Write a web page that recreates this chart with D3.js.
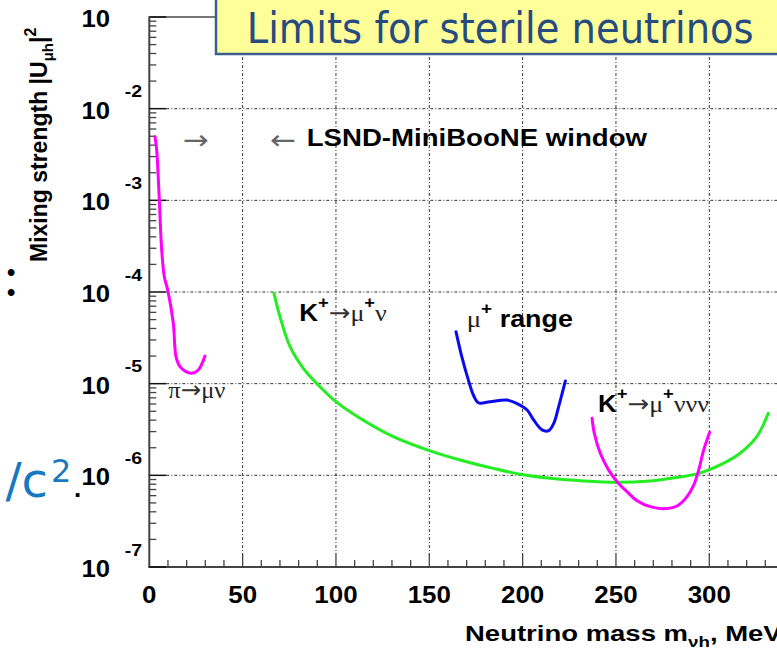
<!DOCTYPE html>
<html>
<head>
<meta charset="utf-8">
<script src="https://cdn.jsdelivr.net/npm/d3@7"></script>
<style>
  html, body { margin: 0; padding: 0; background: #fff; }
  svg { display: block; }
</style>
</head>
<body>
<script>
// ---- data ----
const massTicks = [0, 50, 100, 150, 200, 250, 300];
const decadeExps = [-1, -2, -3, -4, -5, -6, -7];

// pi -> mu nu peak search
const piMass = [3.05, 3.96, 5.36, 6.64, 8.04, 9.86, 12.86, 14.3, 16.45, 19.4, 22.7, 26.25, 29.84];
const piMix  = [4.94e-3, 3.54e-3, 1.01e-3, 2.87e-4, 1.47e-4, 1.05e-4, 4.56e-5, 1.97e-5, 1.53e-5, 1.36e-5, 1.30e-5, 1.41e-5, 2.0e-5];

// K+ -> mu+ nu peak search
const kMuNuMass = [66.8, 70.0, 75.4, 82.5, 90.5, 100.0, 112.9, 130.7, 150.0, 166.5, 184.3, 198.6, 214.8, 232.7, 250.6, 268.4, 281.5, 294.3, 307.5, 316.5, 325.4, 331.6];
const kMuNuMix  = [9.68e-5, 5.38e-5, 2.53e-5, 1.47e-5, 9.68e-6, 6.36e-6, 4.19e-6, 2.64e-6, 1.86e-6, 1.47e-6, 1.19e-6, 1.03e-6, 9.29e-7, 8.68e-7, 8.39e-7, 8.68e-7, 9.4e-7, 1.05e-6, 1.35e-6, 1.74e-6, 2.64e-6, 4.75e-6];

// mu+ range
const muRangeMass = [164.3, 167.4, 170.9, 173.6, 176.3, 182.5, 191.5, 196.8, 202.4, 205.9, 210.4, 214.0, 216.7, 219.3, 222.9];
const muRangeMix  = [3.69e-5, 1.97e-5, 1.10e-5, 7.52e-6, 6.19e-6, 6.36e-6, 6.64e-6, 6.11e-6, 5.16e-6, 4.02e-6, 3.13e-6, 3.07e-6, 3.70e-6, 5.61e-6, 1.07e-5];

// K+ -> mu+ nu nu nu
const k3NuMass = [237.2, 238.4, 241.6, 246.1, 250.6, 255.9, 261.3, 268.4, 275.6, 282.7, 288.1, 291.7, 294.3, 297.0, 300.2];
const k3NuMix  = [4.19e-6, 2.88e-6, 1.74e-6, 1.14e-6, 8.53e-7, 6.64e-7, 5.29e-7, 4.55e-7, 4.33e-7, 4.63e-7, 5.85e-7, 7.85e-7, 1.14e-6, 1.89e-6, 2.95e-6];

// ---- layout ----
const W = 777, H = 648;
const SANS = "'Liberation Sans', Arial, Helvetica, sans-serif";
const SERIF = "'Liberation Serif', 'Times New Roman', serif";
const ARROW = "'DejaVu Sans', sans-serif";
const SLIDE = "'DejaVu Sans', Verdana, sans-serif";

const svg = d3.select('body').append('svg').attr('width', W).attr('height', H);

const x = d3.scaleLinear().domain([0, 300]).range([149.3, 709.3]);
const y = d3.scaleLog().domain([1e-7, 1e-1]).range([567, 17]);
const xLeft = x(0), yBot = y(1e-7), yTop = y(1e-1);

// text helper: parts drawn as tspans inside a horizontally scaled group
function label(px, py, parts, opts = {}) {
  const g = svg.append('g')
    .attr('transform', `translate(${px},${py})${opts.rotate ? ` rotate(${opts.rotate})` : ''} scale(${opts.sx || 1},1)`);
  const t = g.append('text')
    .attr('text-anchor', opts.anchor || 'start')
    .attr('fill', opts.fill || '#000')
    .attr('letter-spacing', opts.ls || null);
  parts.forEach(p => {
    const ts = t.append('tspan')
      .text(p.t)
      .attr('font-family', p.f || SANS)
      .attr('font-size', p.s || 24)
      .attr('font-weight', p.w || 'bold')
      .attr('dy', p.dy || 0)
      .attr('fill', p.c || null);
    if (p.x !== undefined) ts.attr('x', p.x);
  });
  return t;
}

// ---- grid ----
const grid = svg.append('g').attr('stroke', '#333').attr('stroke-width', 1)
  .attr('stroke-dasharray', '3,2,1,2').attr('fill', 'none');
massTicks.filter(m => m > 0).forEach(m => {
  grid.append('line').attr('x1', x(m)).attr('x2', x(m)).attr('y1', yTop).attr('y2', yBot - 14);
});
decadeExps.slice(1, -1).forEach(e => {
  grid.append('line').attr('x1', xLeft + 17).attr('x2', W).attr('y1', y(Math.pow(10, e))).attr('y2', y(Math.pow(10, e)));
});

// ---- axes frame and ticks ----
const axis = svg.append('g').attr('stroke', '#444').attr('fill', 'none');
axis.append('line').attr('x1', xLeft).attr('x2', xLeft).attr('y1', yTop).attr('y2', yBot).attr('stroke-width', 2);
axis.append('line').attr('x1', xLeft - 1).attr('x2', W).attr('y1', yBot).attr('y2', yBot).attr('stroke-width', 2);
axis.append('line').attr('x1', xLeft - 1).attr('x2', 230).attr('y1', yTop).attr('y2', yTop).attr('stroke-width', 2).attr('stroke', '#777');

// x ticks: majors every 50, minors every 10
d3.range(10, 340, 10).forEach(m => {
  const major = m % 50 === 0;
  axis.append('line').attr('x1', x(m)).attr('x2', x(m))
    .attr('y1', yBot).attr('y2', yBot - (major ? 14 : 7)).attr('stroke-width', 1.3);
});
// y ticks: decades and 2..9 minors
decadeExps.forEach(e => {
  if (e > -7) {
    d3.range(2, 10).forEach(k => {
      const v = k * Math.pow(10, e - 1);
      axis.append('line').attr('x1', xLeft).attr('x2', xLeft + 7)
        .attr('y1', y(v)).attr('y2', y(v)).attr('stroke-width', 1.3);
    });
  }
  axis.append('line').attr('x1', xLeft).attr('x2', xLeft + 17)
    .attr('y1', y(Math.pow(10, e))).attr('y2', y(Math.pow(10, e))).attr('stroke-width', 1.5).attr('stroke', '#111');
});

// tick labels
massTicks.forEach(m => {
  label(x(m), 603, [{ t: String(m), s: 24 }], { anchor: 'middle', sx: 1.08 });
});
decadeExps.forEach(e => {
  const gy = y(Math.pow(10, e));
  label(110, gy + 10, [{ t: '10', s: 24 }], { anchor: 'end', sx: 1.07 });
  // the top exponent sits above the page edge
  if (e < -1) label(142, gy - 11.5, [{ t: String(e), s: 17 }], { anchor: 'end', sx: 1.15 });
});

// axis titles
label(465, 640.5, [
  { t: 'Neutrino mass m', s: 22 },
  { t: 'νh', s: 15, dy: 6 },
  { t: ', MeV', s: 22, dy: -6 }
], { sx: 1.25 });

label(47, 262, [
  { t: 'Mixing strength |U', s: 23 },
  { t: 'μh', s: 15, dy: 6 },
  { t: '|', s: 23, dy: -6 },
  { t: '2', s: 16, dy: -11 }
], { rotate: -90 });

// ---- curves ----
const line = d3.line().x(d => x(d[0])).y(d => y(d[1])).curve(d3.curveCatmullRom.alpha(0.5));
const curves = [
  { m: piMass, u: piMix, c: '#ff00ff' },
  { m: kMuNuMass, u: kMuNuMix, c: '#22ee22' },
  { m: muRangeMass, u: muRangeMix, c: '#0a0aee' },
  { m: k3NuMass, u: k3NuMix, c: '#ff00ff' }
];
svg.append('g').selectAll('path').data(curves).join('path')
  .attr('d', d => line(d3.zip(d.m, d.u)))
  .attr('fill', 'none').attr('stroke', d => d.c).attr('stroke-width', 3)
  .attr('stroke-linejoin', 'round').attr('stroke-linecap', 'round');

// ---- annotations ----
label(183, 149, [{ t: '→', f: ARROW, s: 27, w: 'normal' }], { fill: '#666', sx: 1.15 });
label(270, 149, [{ t: '←', f: ARROW, s: 27, w: 'normal' }], { fill: '#666', sx: 1.15 });
label(306.7, 145.7, [{ t: 'LSND-MiniBooNE window', s: 24 }], { sx: 1.15 });

label(299.3, 320.7, [
  { t: 'K', s: 24 },
  { t: '+', s: 17, dy: -13 },
  { t: '→', f: ARROW, s: 24, w: 'normal', dy: 13, c: '#333' },
  { t: 'μ', f: SERIF, s: 24, w: 'normal', c: '#222' },
  { t: '+', s: 17, dy: -13 },
  { t: 'ν', f: SERIF, s: 24, w: 'normal', dy: 13, c: '#222' }
], { sx: 1.08 });

label(466.7, 326.7, [
  { t: 'μ', f: SERIF, s: 24, w: 'normal', c: '#222' },
  { t: '+', s: 17, dy: -13 },
  { t: ' range', s: 24, dy: 13 }
], { sx: 1.12 });

label(598, 411.7, [
  { t: 'K', s: 24 },
  { t: '+', s: 17, dy: -13 },
  { t: '→', f: ARROW, s: 24, w: 'normal', dy: 13, c: '#333' },
  { t: 'μ', f: SERIF, s: 24, w: 'normal', c: '#222' },
  { t: '+', s: 17, dy: -13 },
  { t: 'ννν', f: SERIF, s: 24, w: 'normal', dy: 13, c: '#222' }
], { sx: 1.08 });

label(168.3, 398.3, [
  { t: 'π', f: SERIF, s: 24, w: 'normal' },
  { t: '→', f: ARROW, s: 24, w: 'normal', c: '#333' },
  { t: 'μν', f: SERIF, s: 24, w: 'normal' }
], { fill: '#222', sx: 1.02 });

// ---- slide title box ----
svg.append('rect').attr('x', 216).attr('y', -3).attr('width', 600).attr('height', 57)
  .attr('fill', '#ffff99').attr('stroke', '#3a5f8f').attr('stroke-width', 2.5);
svg.append('text').attr('x', 246.7).attr('y', 43.3)
  .attr('font-family', SLIDE).attr('font-size', 42)
  .attr('fill', '#264b7e')
  .attr('textLength', 507).attr('lengthAdjust', 'spacingAndGlyphs')
  .text('Limits for sterile neutrinos');

// ---- slide text fragments at left ----
label(11, 280.5, [
  { t: '•', s: 25, w: 'normal' },
  { t: '•', s: 25, w: 'normal', x: 0, dy: 20 }
], { anchor: 'middle' });
label(48, 497, [{ t: '/c', f: SLIDE, s: 48, w: 'normal' }], { anchor: 'end', fill: '#1878c0' });
label(51, 482, [{ t: '2', f: SLIDE, s: 32, w: 'normal' }], { fill: '#1878c0' });
label(74, 497, [{ t: '.', s: 26, w: 'bold' }]);
</script>
</body>
</html>
